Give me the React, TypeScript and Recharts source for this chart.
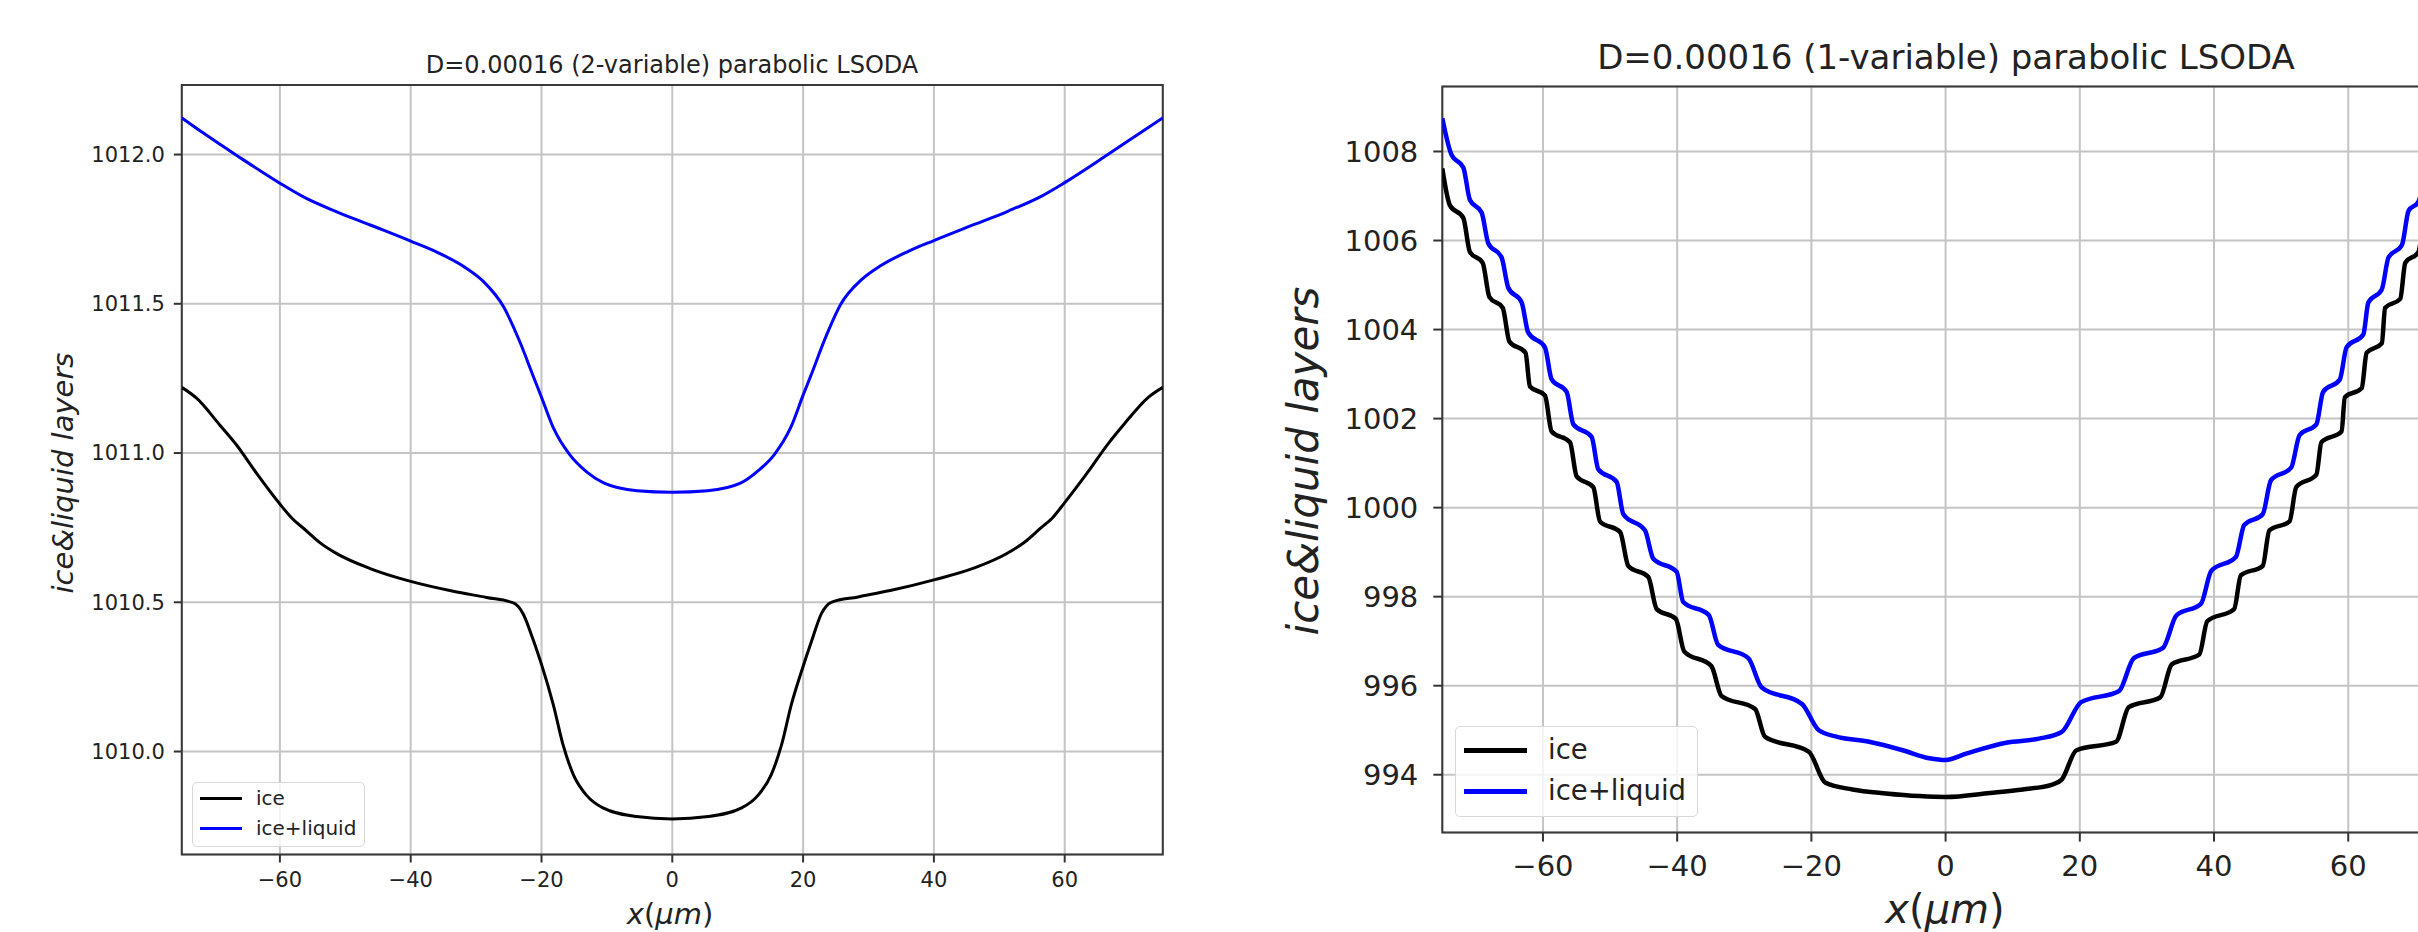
import React from "react";
import { LineChart, Line, XAxis, YAxis, CartesianGrid, ReferenceArea } from "recharts";

const xTicks = [-60, -40, -20, 0, 20, 40, 60];

// left panel: D=0.00016, 2-variable model
const ice2X = [
  -75, -72.7, -69.2, -66.6, -63.5, -60, -58, -56.4, -53.9, -51.3, -46.2, -40, -33.5, -28.4, -24.3,
  -22.8, -21.3, -20, -18.2, -16.7, -15.1, -13.1, -10.6, -5.5, 0, 5.5, 10.6, 13.1, 15.1, 16.7, 18.2,
  20, 21.3, 22.8, 24.3, 28.4, 33.5, 40, 46.2, 51.3, 53.9, 56.4, 58, 60, 63.5, 66.6, 69.2, 72.7, 75,
];
const ice2Y = [
  1011.22, 1011.183, 1011.094, 1011.026, 1010.93, 1010.829, 1010.778, 1010.748, 1010.7, 1010.663,
  1010.613, 1010.57, 1010.537, 1010.516, 1010.498, 1010.461, 1010.376, 1010.292, 1010.157, 1010.022,
  1009.921, 1009.853, 1009.811, 1009.782, 1009.774, 1009.782, 1009.811, 1009.853, 1009.921, 1010.022,
  1010.157, 1010.285, 1010.37, 1010.462, 1010.5, 1010.518, 1010.54, 1010.575, 1010.615, 1010.665,
  1010.702, 1010.75, 1010.78, 1010.834, 1010.935, 1011.03, 1011.1, 1011.185, 1011.22,
];
const total2X = [
  -75, -71.7, -66.6, -60, -56.4, -51.3, -46.2, -40, -36, -31.9, -28.9, -25.8, -23.3, -21.2, -20,
  -18.2, -15.6, -13.1, -10.5, -5.4, 0, 5.4, 10.5, 13.1, 15.6, 18.2, 20, 21.2, 23.3, 25.8, 28.9, 31.9,
  36, 40, 46.2, 51.3, 56.4, 60, 66.6, 71.7, 75,
];
const total2Y = [
  1012.123, 1012.072, 1011.997, 1011.904, 1011.858, 1011.808, 1011.764, 1011.71, 1011.673, 1011.625,
  1011.575, 1011.49, 1011.372, 1011.254, 1011.187, 1011.085, 1010.992, 1010.937, 1010.9, 1010.874,
  1010.869, 1010.874, 1010.9, 1010.94, 1010.995, 1011.09, 1011.194, 1011.26, 1011.38, 1011.5,
  1011.58, 1011.628, 1011.675, 1011.712, 1011.766, 1011.81, 1011.86, 1011.906, 1012.0, 1012.075,
  1012.123,
];
const ticks2Y = [1010, 1010.5, 1011, 1011.5, 1012];

// right panel: D=0.00016, 1-variable model
const ice1X = [
  -75, -73.86, -71.87, -70.88, -68.98, -67.98, -66, -65, -62.6, -61.94, -59.7, -58.71, -55.97,
  -54.98, -52.5, -51.5, -48.5, -47.28, -44.3, -43.05, -40.2, -38.95, -34.9, -33.4, -28.4, -26.9,
  -20.4, -17.9, -13.9, -8.9, -3.9, 0, 6.6, 11.5, 15.9, 17.3, 19.5, 25.4, 27.3, 32, 33.7, 37.8, 39,
  43, 44, 47.25, 48.25, 51.25, 52.25, 55.25, 56, 59, 59.5, 62, 62.75, 65, 65.5, 67.75, 68.5, 70.45,
  71.4, 73.4, 75,
];
const ice1Y = [
  1007.62, 1006.79, 1006.51, 1005.74, 1005.5, 1004.73, 1004.49, 1003.73, 1003.48, 1002.72, 1002.52,
  1001.71, 1001.47, 1000.7, 1000.46, 999.69, 999.45, 998.69, 998.44, 997.72, 997.5, 996.77, 996.44,
  995.77, 995.48, 994.85, 994.52, 993.82, 993.67, 993.58, 993.52, 993.5, 993.59, 993.67, 993.78,
  993.89, 994.55, 994.74, 995.52, 995.74, 996.48, 996.7, 997.45, 997.72, 998.48, 998.69, 999.49,
  999.69, 1000.46, 1000.74, 1001.47, 1001.71, 1002.48, 1002.68, 1003.48, 1003.69, 1004.49, 1004.69,
  1005.5, 1005.74, 1006.51, 1006.79, 1007.62,
];
const total1X = [
  -75, -73.61, -71.87, -70.88, -69.14, -68.15, -66.16, -65.17, -63.18, -62.19, -59.7, -58.71,
  -56.47, -55.47, -52.75, -51.75, -49.02, -48.02, -44.8, -43.55, -40.08, -39.1, -35.3, -33.9, -29.4,
  -27.4, -21.4, -18.9, -16.4, -11.4, -6.4, -2.4, 0, 3.17, 9.02, 13.9, 17.3, 20.2, 25.85, 28.05, 32.4,
  34.4, 38.05, 39.6, 43.25, 44.5, 47.25, 48.5, 51.5, 52.75, 55.25, 56.25, 58.75, 59.75, 62.25, 63,
  65, 66, 68, 69, 70.45, 71.9, 73.6, 75,
];
const total1Y = [
  1008.75, 1007.92, 1007.64, 1006.91, 1006.63, 1005.94, 1005.62, 1004.94, 1004.61, 1003.93, 1003.6,
  1002.88, 1002.6, 1001.87, 1001.59, 1000.86, 1000.58, 999.85, 999.49, 998.85, 998.56, 997.88,
  997.59, 996.92, 996.62, 995.96, 995.59, 995.0, 994.86, 994.74, 994.55, 994.37, 994.33, 994.48,
  994.72, 994.81, 994.96, 995.63, 995.88, 996.62, 996.85, 997.58, 997.84, 998.58, 998.89, 999.61,
  999.85, 1000.62, 1000.9, 1001.63, 1001.87, 1002.6, 1002.88, 1003.6, 1003.89, 1004.61, 1004.9,
  1005.62, 1005.9, 1006.67, 1006.87, 1007.64, 1007.92, 1008.75,
];
const ticks1Y = [994, 996, 998, 1000, 1002, 1004, 1006, 1008];

const FONT = "'DejaVu Sans', sans-serif";
const INK = "#222";

const pts = (xs: number[], ys: number[]) => xs.map((x, i) => ({ x, y: ys[i] }));
const minus = (s: string) => s.replace("-", "\u2212");

type PanelProps = {
  left: number;
  width: number;
  margin: { top: number; right: number; bottom: number; left: number };
  yAxisWidth: number;
  xAxisHeight: number;
  yDomain: [number, number];
  yTicks: number[];
  yFormat: (v: number) => string;
  ice: { x: number; y: number }[];
  total: { x: number; y: number }[];
  fontSize: number;
  tickSize: number;
  yTickMargin: number;
  xTickMargin: number;
  lineWidth: number;
};

function Panel(p: PanelProps) {
  const tickStyle = { fontSize: p.fontSize, fill: INK, fontFamily: FONT };
  const tickLine = { stroke: "#333", strokeWidth: 2 };
  return (
    <div style={{ position: "absolute", left: p.left, top: 0 }}>
      <LineChart width={p.width} height={932} margin={p.margin}>
        <CartesianGrid stroke="#c4c4c4" strokeWidth={2} />
        <XAxis
          type="number"
          dataKey="x"
          domain={[-75, 75]}
          ticks={xTicks}
          allowDataOverflow
          height={p.xAxisHeight}
          axisLine={false}
          tickLine={tickLine}
          tickSize={p.tickSize}
          tickMargin={p.xTickMargin}
          tick={tickStyle}
          tickFormatter={(v: number) => minus(String(v))}
          interval={0}
        />
        <YAxis
          type="number"
          dataKey="y"
          domain={p.yDomain}
          ticks={p.yTicks}
          allowDataOverflow
          width={p.yAxisWidth}
          axisLine={false}
          tickLine={tickLine}
          tickSize={p.tickSize}
          tickMargin={p.yTickMargin}
          tick={tickStyle}
          tickFormatter={p.yFormat}
          interval={0}
        />
        <Line
          data={p.ice}
          dataKey="y"
          type="monotone"
          stroke="#000000"
          strokeWidth={p.lineWidth}
          dot={false}
          activeDot={false}
          isAnimationActive={false}
        />
        <Line
          data={p.total}
          dataKey="y"
          type="monotone"
          stroke="#0000ff"
          strokeWidth={p.lineWidth}
          dot={false}
          activeDot={false}
          isAnimationActive={false}
        />
        <ReferenceArea
          x1={-75}
          x2={75}
          y1={p.yDomain[0]}
          y2={p.yDomain[1]}
          fill="none"
          fillOpacity={0}
          stroke="#3a3a3a"
          strokeWidth={2}
          ifOverflow="visible"
        />
      </LineChart>
    </div>
  );
}

function Text({
  x,
  y,
  size,
  rotate,
  children,
}: {
  x: number;
  y: number;
  size: number;
  rotate?: boolean;
  children: React.ReactNode;
}) {
  return (
    <div
      style={{
        position: "absolute",
        left: x,
        top: y,
        transform: `translate(-50%, -50%)${rotate ? " rotate(-90deg)" : ""}`,
        fontFamily: FONT,
        fontSize: size,
        lineHeight: 1,
        color: INK,
        whiteSpace: "nowrap",
      }}
    >
      {children}
    </div>
  );
}

function XLabel({ x, y, size }: { x: number; y: number; size: number }) {
  return (
    <Text x={x} y={y} size={size}>
      <i>x</i>(<i>μm</i>)
    </Text>
  );
}

function LegendBox({
  left,
  top,
  width,
  height,
  rowY,
  sampleX,
  sampleW,
  textX,
  fontSize,
  lineW,
}: {
  left: number;
  top: number;
  width: number;
  height: number;
  rowY: number[];
  sampleX: number;
  sampleW: number;
  textX: number;
  fontSize: number;
  lineW: number;
}) {
  const rows = [
    { label: "ice", color: "#000000" },
    { label: "ice+liquid", color: "#0000ff" },
  ];
  return (
    <div
      style={{
        position: "absolute",
        left,
        top,
        width,
        height,
        boxSizing: "border-box",
        border: "1.5px solid #d8d8d8",
        borderRadius: 5,
        background: "rgba(255,255,255,0.8)",
      }}
    >
      {rows.map((r, i) => (
        <React.Fragment key={r.label}>
          <div
            style={{
              position: "absolute",
              left: sampleX,
              top: rowY[i] - lineW / 2,
              width: sampleW,
              height: lineW,
              background: r.color,
            }}
          />
          <div
            style={{
              position: "absolute",
              left: textX,
              top: rowY[i],
              transform: "translateY(-50%)",
              fontFamily: FONT,
              fontSize,
              lineHeight: 1,
              color: INK,
              whiteSpace: "nowrap",
            }}
          >
            {r.label}
          </div>
        </React.Fragment>
      ))}
    </div>
  );
}

export default function App() {
  return (
    <div
      style={{
        position: "absolute",
        left: 0,
        top: 0,
        width: 2418,
        height: 932,
        overflow: "hidden",
        background: "#fff",
      }}
    >
      <Panel
        left={0}
        width={1200}
        margin={{ top: 85, right: 37.2, bottom: 0, left: 0 }}
        yAxisWidth={181.8}
        xAxisHeight={77.5}
        yDomain={[1009.655, 1012.233]}
        yTicks={ticks2Y}
        yFormat={(v: number) => v.toFixed(1)}
        ice={pts(ice2X, ice2Y)}
        total={pts(total2X, total2Y)}
        fontSize={21}
        tickSize={8}
        yTickMargin={9}
        xTickMargin={10}
        lineWidth={3}
      />
      <Panel
        left={1210}
        width={1260}
        margin={{ top: 86.5, right: 21.1, bottom: 0, left: 0 }}
        yAxisWidth={232.3}
        xAxisHeight={99.4}
        yDomain={[992.7, 1009.46]}
        yTicks={ticks1Y}
        yFormat={(v: number) => String(v)}
        ice={pts(ice1X, ice1Y)}
        total={pts(total1X, total1Y)}
        fontSize={29}
        tickSize={9}
        yTickMargin={15}
        xTickMargin={14}
        lineWidth={4.5}
      />

      <Text x={672} y={64.5} size={24}>
        D=0.00016 (2-variable) parabolic LSODA
      </Text>
      <Text x={62.5} y={473} size={29} rotate>
        <i>ice&amp;liquid layers</i>
      </Text>
      <XLabel x={670} y={914} size={29} />
      <LegendBox
        left={192}
        top={782}
        width={173}
        height={65}
        rowY={[15, 45]}
        sampleX={7}
        sampleW={42}
        textX={63}
        fontSize={20}
        lineW={3}
      />

      <Text x={1946} y={57} size={34}>
        D=0.00016 (1-variable) parabolic LSODA
      </Text>
      <Text x={1304} y={461} size={42} rotate>
        <i>ice&amp;liquid layers</i>
      </Text>
      <XLabel x={1945} y={909} size={40} />
      <LegendBox
        left={1455}
        top={726}
        width={243}
        height={91}
        rowY={[23.3, 64]}
        sampleX={7.6}
        sampleW={63}
        textX={92}
        fontSize={27.5}
        lineW={5}
      />
    </div>
  );
}
